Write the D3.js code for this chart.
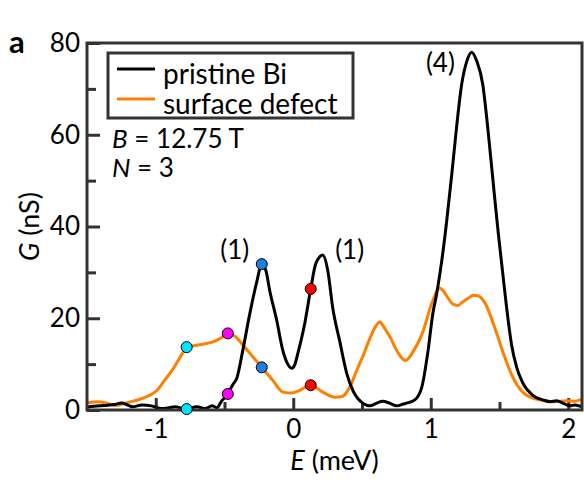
<!DOCTYPE html>
<html>
<head>
<meta charset="utf-8">
<script src="https://cdn.jsdelivr.net/npm/d3@7"></script>
<style>
  body { margin: 0; background: #fff; }
  svg { font-family: Lato, "Open Sans", sans-serif; }
</style>
</head>
<body>
<div class="chart"></div>
<script>
// pristine Bi (black)
const pristineE = [-1.50,-1.45,-1.375,-1.30,-1.25,-1.20,-1.17,-1.10,-1.03,-0.96,-0.90,-0.86,-0.78,-0.70,-0.64,-0.59,-0.555,-0.52,-0.476,-0.44,-0.41,-0.367,-0.316,-0.265,-0.229,-0.20,-0.171,-0.12,-0.076,-0.04,-0.011,0.01,0.033,0.084,0.127,0.164,0.215,0.251,0.287,0.338,0.389,0.433,0.47,0.505,0.556,0.607,0.651,0.70,0.753,0.80,0.825,0.884,0.935,0.978,1.015,1.044,1.08,1.116,1.153,1.189,1.225,1.262,1.298,1.335,1.378,1.415,1.451,1.487,1.524,1.553,1.589,1.625,1.669,1.742,1.815,1.87,1.916,1.96,2.011,2.05,2.10];
const pristineG = [0.6,0.8,1.0,1.2,1.5,1.0,0.7,1.1,0.9,0.3,0.5,0.7,0.2,0.7,0.3,0.9,0.5,2.0,3.5,5.5,7.0,13,21,28,31.8,30.5,26,19.5,13,10,9.1,9.8,12.3,18.9,26.4,31.9,33.8,30.4,22.3,15,8,4.3,2.5,1.5,0.9,1.5,1.9,1.5,0.9,1.3,1.5,2.2,5,12.4,21,25.5,32.5,41.2,51.4,62,71,76,78,76,71,61.4,50.5,39.7,29.7,22,14,9.3,5.9,3.2,2.2,1.8,2.0,1.5,0.9,1.1,0.7];

// surface defect (orange)
const defectE = [-1.50,-1.42,-1.35,-1.30,-1.22,-1.13,-1.06,-0.99,-0.94,-0.88,-0.80,-0.775,-0.70,-0.63,-0.57,-0.52,-0.476,-0.42,-0.375,-0.316,-0.229,-0.149,-0.076,-0.011,0.047,0.127,0.215,0.302,0.36,0.411,0.46,0.51,0.556,0.60,0.629,0.66,0.702,0.76,0.80,0.818,0.869,0.942,1.007,1.065,1.09,1.124,1.165,1.196,1.23,1.269,1.31,1.342,1.393,1.465,1.538,1.596,1.669,1.742,1.844,1.90,1.989,2.05,2.10];
const defectG = [1.5,1.8,1.4,1.0,1.5,2.2,3.0,4.3,6.3,8.7,12.6,13.7,14.1,14.5,15.0,15.8,16.7,16.0,14.5,12.4,9.3,6.5,3.9,3.7,4.3,5.4,3.9,2.8,3.0,5,8.5,12,15.5,18.3,19.2,18.0,16.0,12.6,11.0,10.8,12.6,17,23.2,26.6,26,24.5,23.0,22.8,23.5,24.3,25,24.9,23.4,18,11.5,7.2,3.9,2.6,2.0,1.8,2.0,1.9,2.4];

// marked energies
const markE = [-0.775, -0.476, -0.229, 0.127];
const markPristine = [0.2, 3.5, 31.8, 26.4];
const markDefect = [13.7, 16.7, 9.3, 5.4];
const markColors = ["#00e5ff", "#ff00ff", "#1c7fe0", "#ff0000"];

const xTicks = [-1, 0, 1, 2];
const xMinor = [-0.5, 0.5, 1.5];
const yTicks = [0, 20, 40, 60, 80];
const yMinor = [10, 30, 50, 70];

const peakLabels = ["(1)", "(1)", "(4)"];
const peakLabelE = [-0.425, 0.41, 1.07];
const peakLabelG = [33.0, 33.0, 73.6];

const W = 584, H = 483;
const margin = { top: 43, right: 2, bottom: 73, left: 87 };
const axisColor = "#333";

const svg = d3.select(".chart").append("svg")
  .attr("width", W).attr("height", H);

const x = d3.scaleLinear().domain([-1.5, 2.1]).range([margin.left, W - margin.right]);
const y = d3.scaleLinear().domain([0, 80]).range([H - margin.bottom, margin.top]);

// axes (ticks pointing inward)
const xAxis = svg.append("g")
  .attr("transform", `translate(0,${y(0)})`)
  .call(d3.axisBottom(x).tickValues(xTicks).tickSize(-12).tickPadding(10)
    .tickFormat(d => d < 0 ? "-" + Math.abs(d) : d));
const xAxisMinor = svg.append("g")
  .attr("transform", `translate(0,${y(0)})`)
  .call(d3.axisBottom(x).tickValues(xMinor).tickSize(-8).tickFormat(""));
const yAxis = svg.append("g")
  .attr("transform", `translate(${x(-1.5)},0)`)
  .call(d3.axisLeft(y).tickValues(yTicks).tickSize(-13).tickPadding(7));
const yAxisMinor = svg.append("g")
  .attr("transform", `translate(${x(-1.5)},0)`)
  .call(d3.axisLeft(y).tickValues(yMinor).tickSize(-9).tickFormat(""));

[xAxis, xAxisMinor, yAxis, yAxisMinor].forEach(g => {
  g.select(".domain").remove();
  g.selectAll(".tick line").attr("stroke", axisColor).attr("stroke-width", 3);
  g.selectAll(".tick text").attr("fill", "#000").style("font-size", "26px")
    .style("font-family", "Lato, sans-serif");
});

// lines
const line = d3.line()
  .x(d => x(d[0]))
  .y(d => y(d[1]))
  .curve(d3.curveMonotoneX);

svg.append("path")
  .datum(defectE.map((e, i) => [e, defectG[i]]))
  .attr("d", line)
  .attr("fill", "none")
  .attr("stroke", "#ff8000")
  .attr("stroke-width", 3)
  .attr("stroke-linejoin", "round");

svg.append("path")
  .datum(pristineE.map((e, i) => [e, pristineG[i]]))
  .attr("d", line)
  .attr("fill", "none")
  .attr("stroke", "#000")
  .attr("stroke-width", 3)
  .attr("stroke-linejoin", "round");

// frame
svg.append("rect")
  .attr("x", x(-1.5)).attr("y", y(80))
  .attr("width", x(2.1) - x(-1.5)).attr("height", y(0) - y(80))
  .attr("fill", "none").attr("stroke", axisColor).attr("stroke-width", 3);

// marker dots
const dots = svg.append("g");
markE.forEach((e, i) => {
  [markPristine[i], markDefect[i]].forEach(g => {
    dots.append("circle")
      .attr("cx", x(e)).attr("cy", y(g)).attr("r", 5.5)
      .attr("fill", markColors[i])
      .attr("stroke", "#000").attr("stroke-width", 1);
  });
});

// peak labels
svg.append("g").selectAll("text")
  .data(peakLabels)
  .enter().append("text")
  .attr("x", (d, i) => x(peakLabelE[i]))
  .attr("y", (d, i) => y(peakLabelG[i]))
  .attr("text-anchor", "middle")
  .style("font-size", "26px")
  .text(d => d);

// legend
const legend = svg.append("g");
legend.append("rect")
  .attr("x", 108).attr("y", 53).attr("width", 245).attr("height", 65)
  .attr("fill", "#fff").attr("stroke", axisColor).attr("stroke-width", 3);
const legendItems = [["pristine Bi", "#000"], ["surface defect", "#ff8000"]];
legendItems.forEach((d, i) => {
  legend.append("line")
    .attr("x1", 117).attr("x2", 155)
    .attr("y1", 69 + i * 30).attr("y2", 69 + i * 30)
    .attr("stroke", d[1]).attr("stroke-width", 3);
  legend.append("text")
    .attr("x", 163).attr("y", 84 + i * 30)
    .style("font-size", "28px")
    .text(d[0]);
});

// parameters
const params = svg.append("g").style("font-size", "26px");
const p1 = params.append("text").attr("x", 112).attr("y", 148);
p1.append("tspan").style("font-style", "italic").text("B");
p1.append("tspan").text(" = 12.75 T");
const p2 = params.append("text").attr("x", 112).attr("y", 177);
p2.append("tspan").style("font-style", "italic").text("N");
p2.append("tspan").text(" = 3");

// axis titles
const xt = svg.append("text")
  .attr("x", (x(-1.5) + x(2.1)) / 2).attr("y", 470)
  .attr("text-anchor", "middle").style("font-size", "27px");
xt.append("tspan").style("font-style", "italic").text("E");
xt.append("tspan").text(" (meV)");

const yt = svg.append("text")
  .attr("transform", `translate(39,${(y(0) + y(80)) / 2}) rotate(-90)`)
  .attr("text-anchor", "middle").style("font-size", "27px");
yt.append("tspan").style("font-style", "italic").text("G");
yt.append("tspan").text(" (nS)");

// panel letter
svg.append("text")
  .attr("x", 9).attr("y", 53)
  .style("font-size", "31px").style("font-weight", "bold")
  .text("a");
</script>
</body>
</html>
